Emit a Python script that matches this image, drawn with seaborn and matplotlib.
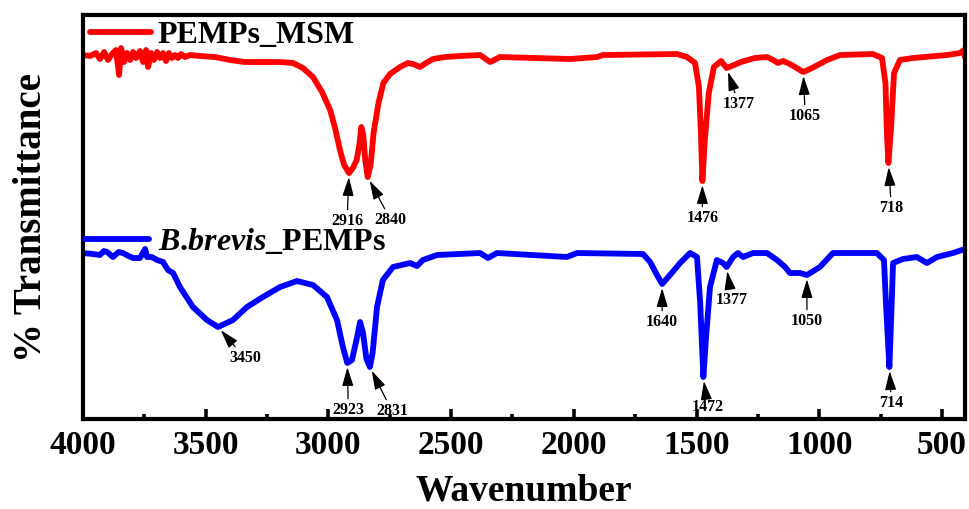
import numpy as np
import pandas as pd
import matplotlib
matplotlib.use("Agg")
import matplotlib.pyplot as plt
from matplotlib.ticker import MultipleLocator
import seaborn as sns

# FTIR spectra (wavenumber in cm^-1, transmittance in arbitrary %)
red_wn = [4000, 3971, 3947, 3931, 3914, 3898, 3882, 3866, 3853, 3845,
          3833, 3821, 3808, 3796, 3784, 3768, 3755, 3743, 3735, 3723,
          3711, 3698, 3686, 3674, 3662, 3650, 3637, 3625, 3613, 3601,
          3584, 3564, 3523, 3462, 3401, 3340, 3279, 3197, 3144, 3104,
          3063, 3026, 2993, 2973, 2953, 2936, 2916, 2900, 2885, 2874,
          2866, 2858, 2850, 2840, 2828, 2816, 2796, 2776, 2749, 2708,
          2676, 2655, 2627, 2602, 2574, 2525, 2464, 2382, 2341, 2301,
          2015, 1905, 1881, 1579, 1539, 1506, 1490, 1482, 1476, 1466,
          1450, 1429, 1400, 1377, 1347, 1319, 1262, 1213, 1188, 1168,
          1147, 1119, 1065, 1029, 968, 915, 781, 744, 730, 724,
          718, 707, 695, 671, 618, 479, 426, 410, 406]
red_tr = [91, 90.75, 91.5, 90, 91.75, 89.75, 91.25, 92.25, 86, 92.75,
          89.25, 91.5, 89.75, 91.75, 90.25, 92, 89.25, 92.25, 88, 91.5,
          89.75, 91.75, 90.25, 91.5, 89.5, 91.5, 90.25, 91, 90.25, 91.25,
          90.5, 91, 90.75, 90.5, 89.75, 89.25, 89.25, 89.25, 89, 87.75,
          85.5, 81.75, 77.25, 72.75, 67.25, 63.5, 61.5, 62.75, 64.75, 68.5,
          73, 71, 64.75, 60.5, 63.5, 71.5, 79, 84, 86.25, 88,
          89, 88.75, 88, 89, 90, 90.5, 90.75, 91, 89.25, 90.5,
          90, 90.5, 91, 91.25, 90.5, 89, 83, 71.5, 59.5, 69.75,
          81.5, 88, 89.5, 87.75, 88.5, 89.25, 90.25, 90.5, 89.75, 89,
          89.5, 88.75, 86.75, 87.75, 89.75, 91, 91.25, 90.25, 84, 71.5,
          64, 73, 86.5, 89.75, 90.25, 91, 91.5, 92.25, 90.5]

blue_wn = [4000, 3960, 3931, 3915, 3902, 3878, 3855, 3837, 3815, 3796,
           3768, 3747, 3739, 3720, 3698, 3674, 3654, 3633, 3605, 3552,
           3495, 3450, 3389, 3332, 3267, 3197, 3128, 3063, 3006, 2965,
           2941, 2923, 2904, 2883, 2871, 2859, 2845, 2831, 2820, 2802,
           2778, 2737, 2667, 2639, 2615, 2557, 2382, 2350, 2313, 2028,
           1987, 1718, 1689, 1661, 1640, 1608, 1567, 1526, 1498, 1485,
           1472, 1461, 1445, 1417, 1392, 1377, 1351, 1331, 1310, 1270,
           1213, 1172, 1139, 1119, 1078, 1050, 997, 944, 765, 736,
           728, 714, 707, 699, 659, 602, 561, 520, 455, 406]
blue_tr = [41.5, 41.25, 41, 42, 41.75, 40.5, 41.75, 41.5, 40.75, 40.25,
           40.25, 42.5, 40.5, 40.5, 39.75, 39.25, 37.25, 36.5, 33, 28,
           24.75, 23, 24.75, 28, 30.5, 33, 34.5, 33.5, 30.5, 24.75,
           18, 14, 14.75, 20.5, 24.25, 21.5, 15, 13, 16.5, 28,
           34.75, 38, 39, 38.25, 39.75, 41, 41.5, 40.25, 41.5, 40.5,
           41.5, 41.25, 39.25, 36, 33.75, 36, 39, 41.5, 40.5, 29,
           10.5, 20.5, 33, 39.75, 39, 38, 40.5, 41.5, 40.5, 41.5,
           41.5, 39.75, 38, 36.5, 36.5, 36, 38, 41.5, 41.5, 39.75,
           29, 13, 24.75, 39, 40, 40.5, 39, 40.5, 41.5, 42.5]

red_name = "PEMPs_MSM"
blue_label = r"$\mathbfit{B}$.$\mathbfit{brevis}$_PEMPs"

# labelled bands: wavenumber and text offset (pixels) from the band minimum
red_peaks = [2916, 2840, 1476, 1377, 1065, 718]
red_offsets = [(-2, -48), (23, -43), (0, -37), (12, -36), (2, -44), (3, -45)]
blue_peaks = [3450, 2923, 2831, 1640, 1472, 1377, 1050, 714]
blue_offsets = [(27, -31), (1, -47), (22, -44), (0, -38), (4, -30),
                (5, -33), (0, -46), (2, -36)]

x_ticks = [4000, 3500, 3000, 2500, 2000, 1500, 1000, 500]

sns.set_style("ticks")
plt.rcParams["font.family"] = ["Liberation Serif", "DejaVu Serif"]
plt.rcParams["font.weight"] = "bold"
plt.rcParams["text.color"] = "black"
plt.rcParams["axes.labelcolor"] = "black"
plt.rcParams["xtick.color"] = "black"
plt.rcParams["xtick.labelcolor"] = "black"
plt.rcParams["mathtext.fontset"] = "custom"
plt.rcParams["mathtext.bfit"] = "Liberation Serif:italic:bold"
plt.rcParams["mathtext.rm"] = "Liberation Serif:bold"

RED = "#ff0000"
BLUE = "#0000ff"

fig = plt.figure(figsize=(9.7, 5.09), dpi=100)
ax = fig.add_axes([0.0856, 0.1768, 0.9092, 0.7937])

red_df = pd.DataFrame({"wn": red_wn, "tr": red_tr})
blue_df = pd.DataFrame({"wn": blue_wn, "tr": blue_tr})
sns.lineplot(data=red_df, x="wn", y="tr", color=RED, lw=4.2,
             estimator=None, sort=False, ax=ax, legend=False)
sns.lineplot(data=blue_df, x="wn", y="tr", color=BLUE, lw=4.2,
             estimator=None, sort=False, ax=ax, legend=False)

ax.set_xlim(4000, 406)
ax.set_ylim(0, 101)
ax.set_xticks(x_ticks)
ax.xaxis.set_minor_locator(MultipleLocator(250))
ax.set_yticks([])
ax.tick_params(axis="x", which="major", direction="in", length=7, width=2.6,
               labelsize=24, pad=8, top=False, colors="black")
ax.tick_params(axis="x", which="minor", direction="in", length=3.5, width=2.6,
               top=False, colors="black")
for lab in ax.get_xticklabels():
    lab.set_fontweight("bold")
for sp in ax.spines.values():
    sp.set_linewidth(3)
    sp.set_color("black")

ax.set_xlabel("Wavenumber", fontsize=27, fontweight="bold", labelpad=9,
              color="black")
ax.set_ylabel("% Transmittance", fontsize=28, fontweight="bold", labelpad=24,
              color="black")


def annotate(peaks, offsets, wn, tr):
    wn_a = np.asarray(wn)[::-1]
    tr_a = np.asarray(tr)[::-1]
    for w, (dx, dy) in zip(peaks, offsets):
        t = np.interp(w, wn_a, tr_a)
        ax.annotate(str(w), xy=(w, t), xytext=(dx, dy),
                    textcoords="offset pixels", ha="center", va="center",
                    fontsize=11.5, fontweight="bold", color="black",
                    arrowprops=dict(arrowstyle="-|>,head_length=1.0,head_width=0.3",
                                    color="black", lw=0.9,
                                    shrinkA=0, shrinkB=3))


annotate(red_peaks, red_offsets, red_wn, red_tr)
annotate(blue_peaks, blue_offsets, blue_wn, blue_tr)

red_line, blue_line = ax.lines[0], ax.lines[1]
leg1 = ax.legend([red_line], [red_name], loc="upper left",
                 bbox_to_anchor=(0.008, 0.985), frameon=False,
                 handlelength=1.9, handletextpad=0.22, borderpad=0,
                 borderaxespad=0, prop={"weight": "bold", "size": 23})
ax.add_artist(leg1)
ax.legend([blue_line], [blue_label], loc="upper left",
          bbox_to_anchor=(0.002, 0.475), frameon=False,
          handlelength=2.0, handletextpad=0.3, borderpad=0,
          borderaxespad=0, prop={"weight": "bold", "size": 23})

fig.savefig("out.png", dpi=100)
